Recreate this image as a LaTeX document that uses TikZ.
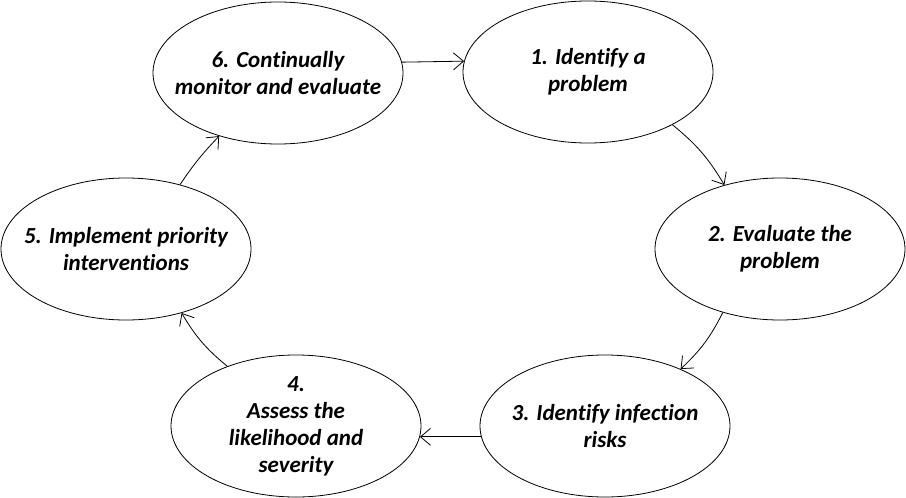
\documentclass[tikz,border=0pt]{standalone}
\usepackage{fontspec}
\setmainfont{Carlito}[Ligatures=NoCommon]
\usetikzlibrary{shapes.geometric,arrows.meta}
\newcommand\stagefont{\fontsize{23}{27}\selectfont\bfseries\itshape}

\begin{document}
\begin{tikzpicture}[x=1pt,y=-1pt]
\tikzstyle{stage}=[ellipse, draw=black, line width=0.8pt, minimum width=250pt, minimum height=142pt, inner sep=-20pt, align=center, font=\stagefont]
\tikzstyle{connect}=[-{Straight Barb[length=10pt,width=17pt]}, line width=0.8pt]
\useasboundingbox (0,0) rectangle (906,498);
  \node[stage] (s6) at (278,73) {6. Continually\\monitor and evaluate};
  \node[stage] (s1) at (588,72) {1. Identify a\\problem};
  \node[stage] (s2) at (780,249) {2. Evaluate the\\problem};
  \node[stage] (s3) at (605,426) {3. Identify infection\\risks};
  \node[stage] (s4) at (296,426) {4.\\Assess the\\likelihood and\\severity};
  \node[stage] (s5) at (126,249) {5. Implement priority\\interventions};
  \path (s6.5) edge[connect] (s1.175)
        (s1.-32) edge[connect, bend left=10] (s2.131)
        (s2.228) edge[connect, bend left=10] (s3.37)
        (s3.185) edge[connect] (s4.-5)
        (s4.139) edge[connect, bend left=10] (s5.-49)
        (s5.50) edge[connect, bend left=5] (s6.227)
        ;
\end{tikzpicture}
\end{document}
